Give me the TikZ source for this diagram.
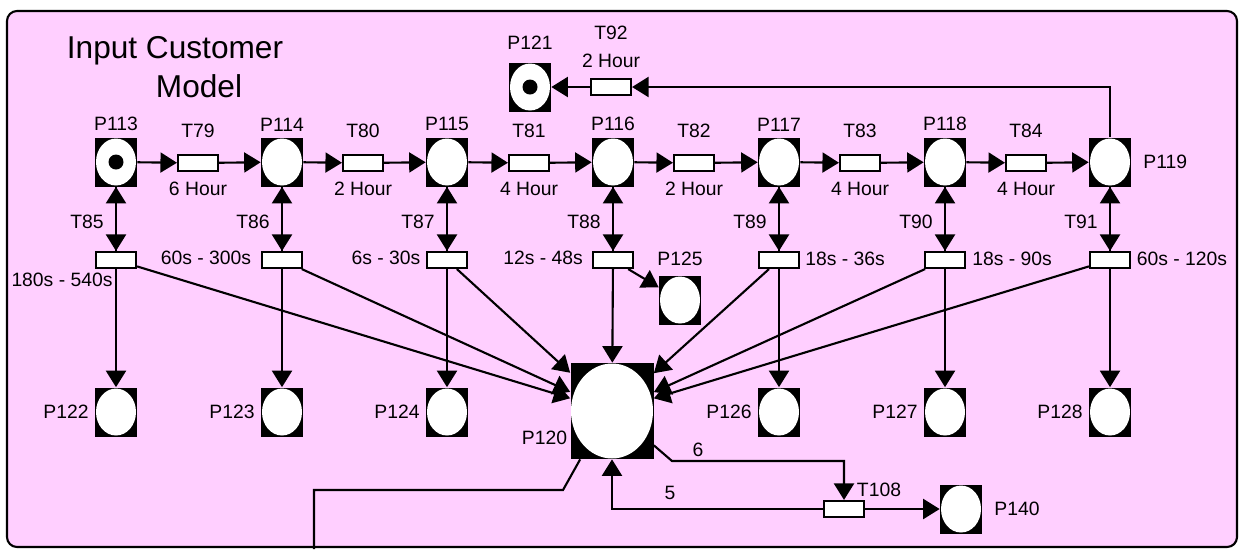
\documentclass[tikz,border=0pt]{standalone}
\usepackage{fontspec}
\setmainfont{Liberation Sans}
\usetikzlibrary{arrows.meta,positioning}
\definecolor{netpink}{RGB}{255,207,255}

\tikzset{
  place/.style={rectangle, fill=black, inner sep=0pt,
    minimum width=0.84cm, minimum height=0.98cm,
    path picture={\fill[white] (path picture bounding box.center)
      ellipse (0.4cm and 0.47cm);}},
  marked/.style={place,
    path picture={\fill[white] (path picture bounding box.center)
      ellipse (0.4cm and 0.47cm);
      \fill[black] (path picture bounding box.center) circle (0.15cm);}},
  bigplace/.style={place, minimum width=1.66cm, minimum height=1.92cm,
    path picture={\fill[white] (path picture bounding box.center)
      ellipse (0.82cm and 0.95cm);}},
  trans/.style={rectangle, draw, fill=white, line width=1.2pt,
    inner sep=0pt, minimum width=0.8cm, minimum height=0.32cm},
  arc/.style={line width=1.2pt, -{Triangle[length=0.33cm,width=0.4cm]}},
  lbl/.style={font=\fontsize{11}{13}\selectfont, inner sep=1pt},
  title/.style={font=\fontsize{18}{22}\selectfont, inner sep=0pt, anchor=base}
}

\begin{document}
\begin{tikzpicture}[x=0.02cm, y=-0.02cm, every node/.append style={lbl}]
  \useasboundingbox (0,0) rectangle (1239,549);
  \draw[fill=netpink, line width=1.2pt, rounded corners=0.2cm]
    (7,11) rectangle (1237,547);

  % title
  \node[title] (title1) at (175,58) {Input Customer};
  \node[title] (title2) at (199,97) {Model};

  % main chain
  \node[marked, label={[label distance=0.08cm]above:P113}] (P113) at (116,162) {};
  \foreach \n/\x in {114/282,115/447,116/613,117/779,118/945}
    \node[place, label={[label distance=0.08cm]above:P\n}] (P\n) at (\x,162) {};
  \node[place, label={[label distance=0.2cm]right:P119}] (P119) at (1110,162) {};

  \foreach \n/\x/\h in {79/198/6,80/363/2,81/529/4,82/694/2,83/860/4,84/1026/4}
    \node[trans, label={[label distance=0.28cm]above:T\n},
      label={[label distance=0.16cm]below:\h~Hour}] (T\n) at (\x,163) {};

  % return loop
  \node[marked, label={[label distance=0.22cm]above:P121}] (P121) at (530,87) {};
  \node[trans, label={[label distance=0.16cm]above:2 Hour},
    label={[label distance=0.72cm]above:T92}] (T92) at (611,87) {};

  % service transitions
  \foreach \n/\x in {85/116,86/282,87/447,88/613,89/779,90/945,91/1110} {
    \node[trans] (T\n) at (\x,260) {};
    \node (T\n lbl) at (\x-29,222) {T\n};
  }
  \foreach \n/\x/\y/\d in {85/62/280/180s - 540s,86/206/258/60s - 300s,
      87/386/258/6s - 30s,88/543/258/12s - 48s,89/845/259/18s - 36s,
      90/1012/259/18s - 90s,91/1182/259/60s - 120s}
    \node (D\n) at (\x,\y) {\d};

  % output places
  \foreach \n/\x in {122/116,123/282,124/447,126/779,127/945,128/1110}
    \node[place, label={[label distance=0.08cm]left:P\n}] (P\n) at (\x,412) {};
  \node[place, label={[label distance=0.14cm]above:P125}] (P125) at (680,300) {};
  \node[bigplace, label={[label distance=0.02cm, yshift=-0.54cm]left:P120}]
    (P120) at (612,411) {};

  \node[trans] (T108) at (844,509) {};
  \node (T108 lbl) at (879,490) {T108};
  \node[place, label={[label distance=0.2cm]right:P140}] (P140) at (961,509) {};
  \node (w6) at (698,450) {6};
  \node (w5) at (670,493) {5};

  \coordinate (k6) at (672,461);
  \coordinate (k1) at (563,490);
  \coordinate (k2) at (314,490);
  \coordinate (kout) at (314,549);

  % arcs
  \foreach \a/\t/\b in {113/79/114,114/80/115,115/81/116,116/82/117,
      117/83/118,118/84/119} {
    \draw[arc] (P\a) -- (T\t);
    \draw[arc] (T\t) -- (P\b);
  }
  \foreach \p/\t/\q in {113/85/122,114/86/123,115/87/124,117/89/126,
      118/90/127,119/91/128} {
    \draw[arc] (P\p) -- (T\t);
    \draw[arc] (T\t) -- (P\p);
    \draw[arc] (T\t) -- (P\q);
    \draw[arc] (T\t) -- (P120);
  }
  \draw[arc] (P116) -- (T88);
  \draw[arc] (T88) -- (P116);
  \draw[arc] (T88) -- (P120);
  \draw[arc] (T88) -- (P125);

  \draw[arc] (P119) |- (T92);
  \draw[arc] (T92) -- (P121);

  \draw[arc] ([yshift=0.28cm]P120.south east) -- (k6) -| (T108);
  \draw[arc] (T108) -| (P120);
  \draw[arc] (T108) -- (P140);
  \draw[line width=1.2pt] ([xshift=0.2cm]P120.south west) -- (k1) -- (k2) -- (kout);
\end{tikzpicture}
\end{document}
